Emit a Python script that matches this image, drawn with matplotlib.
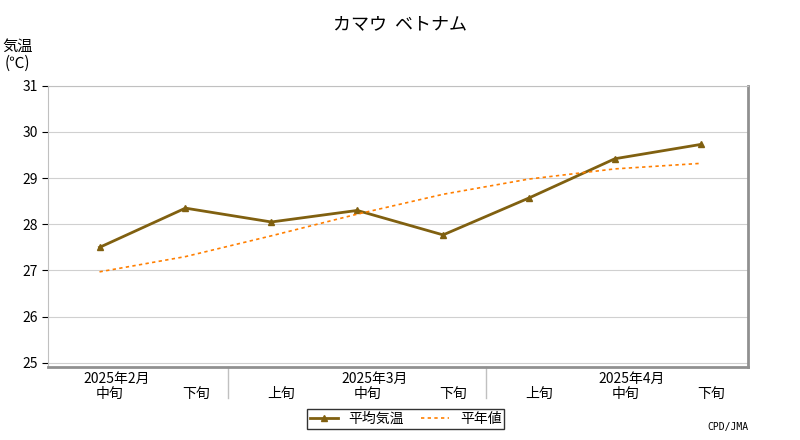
import matplotlib
matplotlib.use("Agg")
import matplotlib.pyplot as plt

plt.rcParams["font.family"] = "Noto Sans CJK JP"

# data
junrui = ["中旬", "下旬", "上旬", "中旬", "下旬", "上旬", "中旬", "下旬"]
tsuki = {0: "2025年2月", 3: "2025年3月", 6: "2025年4月"}
heikin = [27.5, 28.35, 28.05, 28.3, 27.77, 28.57, 29.42, 29.73]
heinen = [26.97, 27.3, 27.75, 28.22, 28.65, 28.98, 29.2, 29.32]

fig = plt.figure(figsize=(8, 4.4), dpi=100)
ax = fig.add_axes([0.06, 0.165, 0.875, 0.64])
x = list(range(len(heikin)))

ax.plot(x, heikin, color="#806010", lw=2, marker="^", ms=5, label="平均気温")
ax.plot(x, heinen, color="#ff7f00", lw=1.2, ls=(0, (2, 2)), label="平年値")

ax.set_ylim(24.9, 31)
ax.set_xlim(-0.6, 7.55)
ax.set_yticks(range(25, 32))
ax.tick_params(axis="y", labelsize=10, length=4)
ax.grid(axis="y", color="#d0d0d0", lw=0.8)
ax.set_xticks([])
for s in ["left", "top"]:
    ax.spines[s].set_color("#c0c0c0")
for s in ["right", "bottom"]:
    ax.spines[s].set_color("#909090")
    ax.spines[s].set_linewidth(2)

for i, lab in enumerate(junrui):
    ax.text(i + 0.12, -0.095, lab, transform=ax.get_xaxis_transform(), ha="center", va="center", fontsize=10)
for i, lab in tsuki.items():
    ax.text(i + 0.2, -0.04, lab, transform=ax.get_xaxis_transform(), ha="center", va="center", fontsize=10)
for xs in [1.5, 4.5]:
    ax.plot([xs, xs], [0, -0.11], transform=ax.get_xaxis_transform(), color="#c0c0c0", lw=1, clip_on=False)

fig.text(0.5, 0.945, "カマウ  ベトナム", ha="center", va="center", fontsize=13)
fig.text(0.022, 0.875, "気温\n(℃)", ha="center", va="center", fontsize=11, linespacing=1.0)
fig.text(0.935, 0.03, "CPD/JMA", ha="right", va="center", fontsize=7, family="DejaVu Sans Mono")

fig.legend(loc="center", bbox_to_anchor=(0.507, 0.048), ncol=2, fontsize=10,
           frameon=True, fancybox=False, edgecolor="black", handlelength=2,
           borderpad=0.2, columnspacing=1.2)

fig.savefig("out.png")
